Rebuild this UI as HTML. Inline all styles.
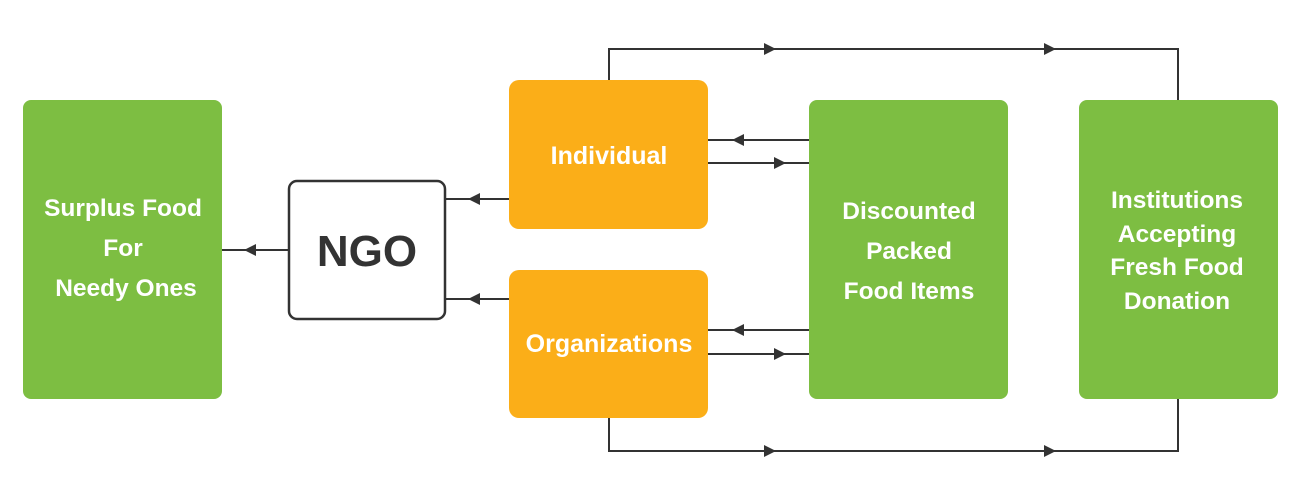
<!DOCTYPE html>
<html><head><meta charset="utf-8"><style>
html,body{margin:0;padding:0;background:#fff;}
svg{display:block;}
text{font-family:"Liberation Sans",sans-serif;font-weight:bold;fill:#fff;text-anchor:middle;}
</style></head><body>
<svg width="1300" height="500" viewBox="0 0 1300 500">
<g stroke="#333" stroke-width="2" fill="none">
<polyline points="609,80 609,49 1178,49 1178,100"/>
<polyline points="609,418 609,451 1178,451 1178,399"/>
<line x1="809" y1="140" x2="708" y2="140"/>
<line x1="708" y1="163" x2="809" y2="163"/>
<line x1="809" y1="330" x2="708" y2="330"/>
<line x1="708" y1="354" x2="809" y2="354"/>
<line x1="509" y1="199" x2="445" y2="199"/>
<line x1="509" y1="299" x2="445" y2="299"/>
<line x1="288" y1="250" x2="222" y2="250"/>
</g>
<g fill="#333">
<path d="M776,49 l-12,-6 v12z"/>
<path d="M1056,49 l-12,-6 v12z"/>
<path d="M776,451 l-12,-6 v12z"/>
<path d="M1056,451 l-12,-6 v12z"/>
<path d="M732,140 l12,-6 v12z"/>
<path d="M786,163 l-12,-6 v12z"/>
<path d="M732,330 l12,-6 v12z"/>
<path d="M786,354 l-12,-6 v12z"/>
<path d="M468,199 l12,-6 v12z"/>
<path d="M468,299 l12,-6 v12z"/>
<path d="M244,250 l12,-6 v12z"/>
</g>
<rect x="23" y="100" width="199" height="299" rx="8" fill="#7DBE42"/>
<rect x="809" y="100" width="199" height="299" rx="8" fill="#7DBE42"/>
<rect x="1079" y="100" width="199" height="299" rx="8" fill="#7DBE42"/>
<rect x="509" y="80" width="199" height="149" rx="10" fill="#FBAE18"/>
<rect x="509" y="270" width="199" height="148" rx="10" fill="#FBAE18"/>
<rect x="289" y="181" width="156" height="138" rx="8" fill="#fff" stroke="#333" stroke-width="2.5"/>
<text x="609" y="164" font-size="25">Individual</text>
<text x="609" y="352" font-size="25">Organizations</text>
<text x="367" y="266" font-size="44" style="fill:#333">NGO</text>
<text font-size="24.5"><tspan x="123" y="216">Surplus Food</tspan><tspan x="123" y="256">For</tspan><tspan x="126" y="296">Needy Ones</tspan></text>
<text font-size="24.5"><tspan x="909" y="219">Discounted</tspan><tspan x="909" y="259">Packed</tspan><tspan x="909" y="299">Food Items</tspan></text>
<text font-size="24.5"><tspan x="1177" y="208">Institutions</tspan><tspan x="1177" y="242">Accepting</tspan><tspan x="1177" y="275">Fresh Food</tspan><tspan x="1177" y="309">Donation</tspan></text>
</svg>
</body></html>
